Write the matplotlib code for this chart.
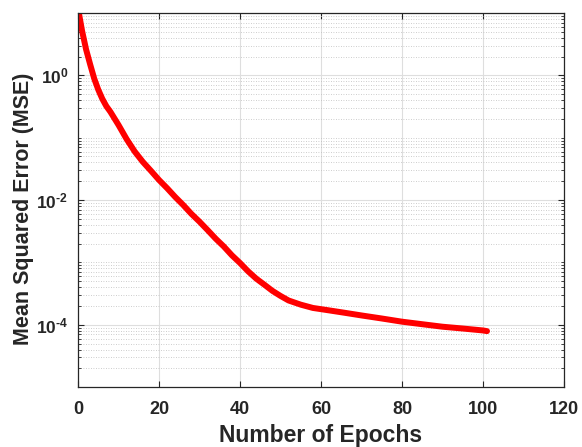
import matplotlib
matplotlib.use("Agg")
import matplotlib.pyplot as plt
import numpy as np
from matplotlib.ticker import FixedLocator, FixedFormatter, NullFormatter

plt.rcParams['font.family'] = ['Liberation Sans', 'DejaVu Sans']
plt.rcParams['mathtext.fontset'] = 'custom'
plt.rcParams['mathtext.rm'] = 'Liberation Sans:bold'
plt.rcParams['mathtext.bf'] = 'Liberation Sans:bold'

# training curve (epoch, mse)
epochs = [0, 1, 2, 3, 4, 5, 6, 7, 8, 10, 12, 14, 16, 18, 20, 22, 24, 26, 28,
          30, 32, 34, 36, 38, 40, 42, 44, 46, 48, 50, 52, 55, 58, 62, 66, 70,
          75, 80, 85, 90, 95, 100, 101]
mse = [12.0, 5.2, 2.6, 1.5, 0.89, 0.59, 0.42, 0.32, 0.26, 0.16, 0.095, 0.060,
       0.041, 0.0295, 0.021, 0.0155, 0.0112, 0.0083, 0.0060, 0.0045, 0.0033,
       0.0024, 0.0018, 0.0013, 0.00098, 0.00072, 0.00055, 0.00044, 0.00035,
       0.00029, 0.000245, 0.00021, 0.000186, 0.00017, 0.000155, 0.000141,
       0.000126, 0.000112, 0.000102, 0.000093, 0.000087, 0.000081, 0.000079]

xticks = [0, 20, 40, 60, 80, 100, 120]
yticks = [1e-4, 1e-2, 1e0]
# short hyphen in the exponent instead of the wide minus sign
ytick_labels = [r'$\mathbf{10^{\text{-}4}}$', r'$\mathbf{10^{\text{-}2}}$',
                r'$\mathbf{10^{0}}$']

fig = plt.figure(figsize=(5.82, 4.47), dpi=100)
ax = fig.add_axes([0.134, 0.134, 0.835, 0.837])

ax.semilogy(epochs, mse, color='red', linewidth=4.3, solid_capstyle='round')

ax.set_xlim(0, 120)
ax.set_ylim(1e-5, 1e1)

ax.xaxis.set_major_locator(FixedLocator(xticks))
ax.yaxis.set_major_locator(FixedLocator(yticks))
ax.yaxis.set_major_formatter(FixedFormatter(ytick_labels))
minor = [s * 10.0 ** e for e in range(-5, 1) for s in range(1, 10)
         if not (s == 1 and e in (-4, -2, 0))]
ax.yaxis.set_minor_locator(FixedLocator(minor))
ax.yaxis.set_minor_formatter(NullFormatter())

dark = '#262626'
for sp in ax.spines.values():
    sp.set_color(dark)
    sp.set_linewidth(0.9)

ax.tick_params(which='both', direction='in', top=True, right=True,
               colors=dark, labelcolor=dark)
ax.tick_params(which='major', length=4.5, width=0.8, labelsize=13)
ax.tick_params(axis='y', which='major', labelsize=12.5, pad=7)
ax.tick_params(which='minor', length=2.5, width=0.6)
ax.tick_params(axis='x', which='major', pad=10)
for lbl in ax.get_xticklabels():
    lbl.set_fontweight('bold')

ax.grid(True, which='major', color='#dedede', linewidth=0.8, linestyle='-')
ax.grid(True, which='minor', axis='y', color='#bdbdbd', linewidth=0.6,
        linestyle=(0, (1, 2)))
ax.set_axisbelow(True)

ax.set_xlabel('Number of Epochs', fontsize=16.5, fontweight='bold', color=dark)
ax.set_ylabel('Mean Squared Error (MSE)', fontsize=15.5, fontweight='bold',
              color=dark)
ax.xaxis.set_label_coords(0.5, -0.099)
ax.yaxis.set_label_coords(-0.090, 0.476)

fig.savefig('out.png', dpi=100, facecolor='white')
